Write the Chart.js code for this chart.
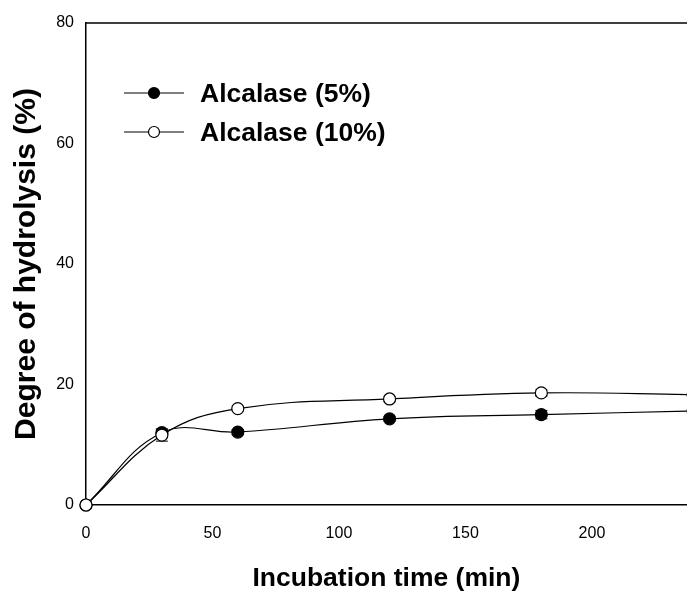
<!DOCTYPE html>
<html lang="en">
<head>
    <meta charset="UTF-8">
    <title>Degree of hydrolysis</title>
    <script src="https://cdn.jsdelivr.net/npm/chart.js"></script>
    <style>
        html, body { margin: 0; padding: 0; background: #fff; overflow: hidden; }
        #wrap { width: 687px; height: 595px; overflow: hidden; }
    </style>
</head>
<body>

<div id="wrap">
    <canvas id="myChart" width="694" height="595"></canvas>
</div>

<script>
// datos
const tiempos = [0, 30, 60, 120, 180, 240];
const alcalase5 = [0, 12.0, 12.1, 14.3, 15.0, 15.6];
const alcalase10 = [0, 11.6, 16.0, 17.6, 18.6, 18.3];
const error5 = [0, 0.6, 0.4, 0.4, 0.7, 0];
const error10 = [0, 1.0, 0.4, 0.4, 0.5, 0];
const etiquetasY = [0, 20, 40, 60, 80];
const etiquetasX = [0, 50, 100, 150, 200];
const nombres = ['Alcalase (5%)', 'Alcalase (10%)'];

const fuente = '"Liberation Sans", Arial, sans-serif';

function puntos(valores) {
    return tiempos.map((t, i) => ({ x: t, y: valores[i] }));
}

// barras de error, marco superior y leyenda dentro del área
const extras = {
    id: 'extras',
    beforeDatasetsDraw(chart) {
        const { ctx, chartArea, scales: { x, y } } = chart;
        ctx.save();
        ctx.beginPath();
        ctx.rect(0, 0, chartArea.right, chart.height);
        ctx.clip();
        ctx.strokeStyle = '#000';
        ctx.lineWidth = 1;
        [error5, error10].forEach((errs, d) => {
            const vals = d === 0 ? alcalase5 : alcalase10;
            tiempos.forEach((t, i) => {
                if (!errs[i]) return;
                const px = x.getPixelForValue(t);
                const y1 = y.getPixelForValue(vals[i] - errs[i]);
                const y2 = y.getPixelForValue(vals[i] + errs[i]);
                ctx.beginPath();
                ctx.moveTo(px, y1); ctx.lineTo(px, y2);
                ctx.moveTo(px - 6, y1); ctx.lineTo(px + 6, y1);
                ctx.moveTo(px - 6, y2); ctx.lineTo(px + 6, y2);
                ctx.stroke();
            });
        });
        ctx.restore();
    },
    afterDraw(chart) {
        const { ctx, chartArea } = chart;
        ctx.save();
        ctx.strokeStyle = '#000';
        ctx.lineWidth = 1.5;
        ctx.beginPath();
        ctx.moveTo(chartArea.left, chartArea.top);
        ctx.lineTo(chart.width, chartArea.top);
        ctx.stroke();

        const filas = [93, 132];
        filas.forEach((fy, i) => {
            ctx.lineWidth = 1.2;
            ctx.beginPath();
            ctx.moveTo(124, fy);
            ctx.lineTo(184, fy);
            ctx.stroke();
            ctx.beginPath();
            ctx.arc(154, fy, 5.5, 0, Math.PI * 2);
            ctx.fillStyle = i === 0 ? '#000' : '#fff';
            ctx.fill();
            ctx.stroke();
            ctx.fillStyle = '#000';
            ctx.font = 'bold 26.5px ' + fuente;
            ctx.textBaseline = 'middle';
            ctx.fillText(nombres[i], 200, fy + 2);
        });
        ctx.restore();
    }
};

const recorte = { left: 12, top: 12, right: 0, bottom: 12 };

const ctx = document.getElementById('myChart').getContext('2d');
const myChart = new Chart(ctx, {
    type: 'line',
    data: {
        datasets: [{
            label: nombres[0],
            data: puntos(alcalase5),
            order: 1,
            clip: recorte,
            borderColor: '#000',
            borderWidth: 1.2,
            backgroundColor: '#000',
            pointBackgroundColor: '#000',
            pointBorderColor: '#000',
            pointRadius: 6,
            tension: 0.4
        }, {
            label: nombres[1],
            data: puntos(alcalase10),
            order: 0,
            clip: recorte,
            borderColor: '#000',
            borderWidth: 1.2,
            backgroundColor: '#fff',
            pointBackgroundColor: '#fff',
            pointBorderColor: '#000',
            pointBorderWidth: 1.2,
            pointRadius: 6,
            tension: 0.4
        }]
    },
    options: {
        responsive: false,
        animation: false,
        layout: { padding: { top: 23, right: 0, left: 0, bottom: 0 } },
        plugins: {
            legend: { display: false },
            tooltip: { enabled: false }
        },
        scales: {
            x: {
                type: 'linear',
                min: 0,
                max: 237.5,
                afterBuildTicks(axis) { axis.ticks = etiquetasX.map(v => ({ value: v })); },
                afterFit(axis) {
                    axis.height = 90;
                    axis.paddingRight = 0;
                    axis.paddingLeft = 0;
                },
                grid: { display: false, drawTicks: true, tickLength: 7, tickColor: '#000' },
                border: { color: '#000', width: 1.5 },
                ticks: {
                    color: '#000',
                    padding: 12,
                    font: { family: fuente, size: 16 }
                },
                title: {
                    display: true,
                    text: 'Incubation time (min)',
                    color: '#000',
                    padding: { top: 0, bottom: 0 },
                    font: { family: fuente, size: 26.5, weight: 'bold' }
                }
            },
            y: {
                min: 0,
                max: 80,
                afterBuildTicks(axis) { axis.ticks = etiquetasY.map(v => ({ value: v })); },
                afterFit(axis) {
                    axis.width = 86;
                    axis.paddingTop = 0;
                    axis.paddingBottom = 0;
                },
                grid: { display: false, drawTicks: true, tickLength: 7, tickColor: '#000' },
                border: { color: '#000', width: 1.5 },
                ticks: {
                    color: '#000',
                    padding: 5,
                    font: { family: fuente, size: 16 }
                },
                title: {
                    display: true,
                    text: 'Degree of hydrolysis (%)',
                    color: '#000',
                    padding: { top: 9, bottom: 0 },
                    font: { family: fuente, size: 30, weight: 'bold' }
                }
            }
        }
    },
    plugins: [extras]
});
</script>

</body>
</html>
